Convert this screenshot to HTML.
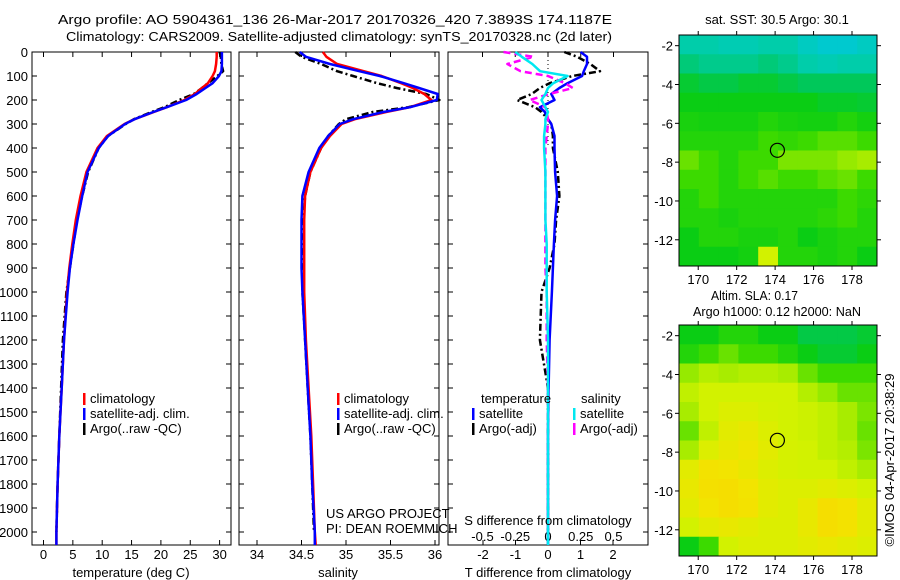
<!DOCTYPE html>
<html><head><meta charset="utf-8">
<style>
html,body{margin:0;padding:0;background:#fff;}
svg{display:block;font-family:"Liberation Sans",sans-serif;}
text{font-size:13px;fill:#000;}
</style></head>
<body>
<svg id="chart" width="900" height="580" viewBox="0 0 900 580" xmlns="http://www.w3.org/2000/svg">
<text x="58" y="24" textLength="554" lengthAdjust="spacingAndGlyphs">Argo profile: AO 5904361_136 26-Mar-2017 20170326_420 7.3893S 174.1187E</text>
<text x="66" y="41" textLength="546" lengthAdjust="spacingAndGlyphs">Climatology: CARS2009. Satellite-adjusted climatology: synTS_20170328.nc (2d later)</text>
<text x="777" y="24" text-anchor="middle">sat. SST: 30.5 Argo: 30.1</text>
<text x="711" y="300" textLength="87" lengthAdjust="spacingAndGlyphs">Altim. SLA: 0.17</text>
<text x="693" y="316" textLength="168" lengthAdjust="spacingAndGlyphs">Argo h1000: 0.12 h2000: NaN</text>
<text x="0" y="0" transform="translate(894,460) rotate(-90)" text-anchor="middle">©IMOS 04-Apr-2017 20:38:29</text>
<text x="326" y="518">US ARGO PROJECT</text>
<text x="326" y="533">PI: DEAN ROEMMICH</text>
</svg>
<script>
// ---------- data ----------
const depths    = [0,20,50,80,100,130,150,175,200,230,250,280,300,350,400,500,600,700,800,900,1000,1200,1400,1600,1800,2000,2054];
const tempClim  = [29.5,29.5,29.4,29.2,28.8,28.0,27.0,25.8,24.0,21.0,18.8,15.5,13.8,10.8,9.2,7.3,6.3,5.5,4.9,4.4,4.0,3.5,3.1,2.7,2.4,2.2,2.2];
const tempSat   = [30.4,30.4,30.4,30.3,29.9,28.8,27.6,26.1,24.3,21.0,18.7,15.5,13.9,11.0,9.4,7.5,6.6,5.8,5.1,4.5,4.1,3.5,3.1,2.7,2.4,2.2,2.2];
const tempArgo  = [30.0,30.2,30.3,30.6,29.6,28.0,27.0,25.6,23.1,20.6,18.4,15.4,14.0,11.0,9.4,7.6,6.6,5.7,5.1,4.5,3.9,3.3,3.0,2.7,2.4,2.2,null];
const salClim   = [34.74,34.78,34.90,35.20,35.40,35.62,35.75,35.88,35.96,35.72,35.45,35.10,34.95,34.82,34.72,34.60,34.54,34.53,34.53,34.53,34.53,34.55,34.58,34.61,34.63,34.65,34.66];
const salSat    = [34.48,34.55,34.82,35.15,35.38,35.65,35.82,36.03,36.02,35.72,35.42,35.08,34.93,34.80,34.70,34.58,34.51,34.50,34.50,34.50,34.51,34.54,34.57,34.60,34.62,34.65,34.65];
const salArgo   = [34.43,34.50,34.72,34.90,35.08,35.35,35.57,35.90,36.05,35.70,35.30,35.00,34.92,34.80,34.72,34.60,34.54,34.52,34.51,34.51,34.51,34.54,34.57,34.60,34.62,34.64,null];
const dTsat     = [1.0,1.2,1.2,1.1,1.05,0.6,0.35,0.1,0.2,-0.25,-0.1,0.0,0.1,0.2,0.2,0.22,0.28,0.22,0.18,0.15,0.12,0.05,0.02,0.0,0.0,0.0,0.0];
const dTargo    = [0.5,0.9,1.3,1.6,0.75,0.05,-0.25,-0.5,-0.95,-0.4,-0.2,0.0,0.1,0.15,0.15,0.3,0.35,0.25,0.2,0.05,-0.2,-0.25,0.0,0.0,0.0,0.0,null];
const dSargo    = [-0.34,-0.11,-0.31,-0.21,0.0,0.13,0.19,0.01,-0.14,-0.02,-0.01,0.0,0.0,-0.01,-0.02,-0.02,-0.02,-0.02,-0.02,-0.02,-0.01,-0.01,0.0,0.0,0.0,0.0,null];
const dSsat     = [-0.25,-0.2,-0.12,-0.06,0.15,0.04,0.0,-0.02,-0.05,-0.02,0.0,-0.02,-0.02,-0.03,-0.03,-0.02,-0.02,-0.02,-0.01,-0.01,-0.01,0.0,0.0,0.0,0.0,0.0,0.0];
const depthTicks = [0,100,200,300,400,500,600,700,800,900,1000,1100,1200,1300,1400,1500,1600,1700,1800,1900,2000];
const tempTicks  = [0,5,10,15,20,25,30];
const salTicks   = [34,34.5,35,35.5,36];
const salTickLabels = ['34','34.5','35','35.5','36'];
const dTTicks    = [-2,-1,0,1,2];
const dSTicks    = [-0.5,-0.25,0,0.25,0.5];
const dSTickLabels = ['-0.5','-0.25','0','0.25','0.5'];
const lonTicks   = [170,172,174,176,178];
const latTicks   = [-2,-4,-6,-8,-10,-12];
const argoLon = 174.1187, argoLat = -7.3893;
const sstGrid = [
[0.30,0.30,0.28,0.28,0.30,0.30,0.25,0.22,0.22,0.25],
[0.35,0.33,0.33,0.33,0.35,0.33,0.30,0.28,0.30,0.30],
[0.42,0.40,0.40,0.42,0.42,0.40,0.38,0.38,0.38,0.38],
[0.45,0.45,0.45,0.45,0.45,0.45,0.45,0.43,0.43,0.42],
[0.48,0.47,0.47,0.47,0.50,0.48,0.47,0.47,0.50,0.47],
[0.50,0.50,0.50,0.50,0.55,0.53,0.55,0.58,0.58,0.55],
[0.60,0.55,0.50,0.55,0.55,0.62,0.62,0.62,0.65,0.68],
[0.55,0.55,0.50,0.55,0.58,0.55,0.55,0.58,0.60,0.55],
[0.50,0.55,0.50,0.50,0.50,0.50,0.50,0.50,0.55,0.52],
[0.50,0.50,0.48,0.50,0.50,0.50,0.50,0.52,0.55,0.50],
[0.45,0.50,0.50,0.48,0.48,0.50,0.45,0.48,0.50,0.50],
[0.45,0.45,0.45,0.47,0.75,0.50,0.50,0.48,0.50,0.45]];
const slaGrid = [
[0.45,0.45,0.50,0.50,0.45,0.45,0.40,0.40,0.40,0.42],
[0.50,0.55,0.60,0.55,0.55,0.50,0.45,0.42,0.42,0.45],
[0.65,0.70,0.68,0.70,0.70,0.68,0.60,0.55,0.55,0.55],
[0.72,0.75,0.75,0.75,0.75,0.75,0.70,0.65,0.60,0.60],
[0.68,0.75,0.78,0.78,0.76,0.75,0.74,0.72,0.68,0.62],
[0.60,0.72,0.80,0.82,0.78,0.75,0.74,0.72,0.68,0.60],
[0.68,0.78,0.82,0.84,0.80,0.76,0.75,0.72,0.70,0.62],
[0.80,0.86,0.85,0.82,0.78,0.76,0.75,0.75,0.72,0.68],
[0.82,0.87,0.88,0.85,0.80,0.78,0.78,0.80,0.78,0.75],
[0.80,0.85,0.88,0.86,0.80,0.78,0.82,0.88,0.86,0.80],
[0.75,0.80,0.82,0.80,0.78,0.78,0.82,0.88,0.86,0.80],
[0.45,0.55,0.75,0.78,0.78,0.78,0.80,0.82,0.80,0.78]];

// ---------- helpers ----------
const svg=document.getElementById('chart');
const NS='http://www.w3.org/2000/svg';
function mk(tag,attrs,parent){const e=document.createElementNS(NS,tag);for(const k in attrs)e.setAttribute(k,attrs[k]);(parent||svg).appendChild(e);return e;}
const Y0=52, YB=545;
const yD=d=>Y0+d*0.24;
const P1={x0:32,x1:231}, P2={x0:239,x1:439}, P3={x0:448,x1:648};
const xT=t=>43.5+t*5.87;
const xS=s=>257+(s-34)*89;
const xDT=t=>548+t*32.5;
const xDS=s=>548+s*131;

function frame(P,name){
  const r=mk('rect',{x:P.x0,y:Y0,width:P.x1-P.x0,height:YB-Y0,fill:'none',stroke:'#000','stroke-width':1});
  
  
  depthTicks.forEach(d=>{
    mk('line',{x1:P.x0,x2:P.x0+5,y1:yD(d),y2:yD(d),stroke:'#000'});
    mk('line',{x1:P.x1,x2:P.x1-5,y1:yD(d),y2:yD(d),stroke:'#000'});
  });
}
function xticks(P,vals,fx,labels,y,name){
  vals.forEach((v,i)=>{
    const x=fx(v);
    mk('line',{x1:x,x2:x,y1:YB,y2:YB-5,stroke:'#000'});
    mk('line',{x1:x,x2:x,y1:Y0,y2:Y0+5,stroke:'#000'});
    const t=mk('text',{x:x,y:y,'text-anchor':'middle'});t.textContent=labels?labels[i]:String(v);
    
    
  });
}
function line(vals,fx,color,dash,name){
  let d='';let pen=false;
  vals.forEach((v,i)=>{ if(v===null){pen=false;return;} d+=(pen?'L':'M')+fx(v).toFixed(1)+','+yD(depths[i]).toFixed(1);pen=true;});
  const p=mk('path',{d:d,fill:'none',stroke:color,'stroke-width':2.5,'stroke-linejoin':'round'});
  if(dash)p.setAttribute('stroke-dasharray',dash);
  
  
}
function legend(x,y,items,prefix){
  items.forEach((it,i)=>{
    mk('rect',{x:x,y:y+i*15-10,width:2.5,height:12,fill:it[1]});
    const t=mk('text',{x:x+7,y:y+i*15});t.textContent=it[0];
    
    
  });
}

depthTicks.forEach(d=>{const t=mk('text',{x:28,y:yD(d)+5,'text-anchor':'end'});t.textContent=String(d);

});

// panel 1
frame(P1,'temperature-panel');
xticks(P1,tempTicks,xT,null,559,'temperature-tick-label');
line(tempArgo,xT,'#000','7,3,2,3','temp-argo-line');
line(tempClim,xT,'#ff0000',null,'temp-clim-line');
line(tempSat,xT,'#0000ff',null,'temp-sat-line');
{const t=mk('text',{x:131,y:577,'text-anchor':'middle'});t.textContent='temperature (deg C)';

}
legend(83,403,[['climatology','#f00'],['satellite-adj. clim.','#00f'],['Argo(..raw -QC)','#000']],'temperature');

// panel 2
frame(P2,'salinity-panel');
xticks(P2,salTicks,xS,salTickLabels,559,'salinity-tick-label');
line(salArgo,xS,'#000','7,3,2,3','sal-argo-line');
line(salClim,xS,'#ff0000',null,'sal-clim-line');
line(salSat,xS,'#0000ff',null,'sal-sat-line');
{const t=mk('text',{x:338,y:577,'text-anchor':'middle'});t.textContent='salinity';

}
legend(337,403,[['climatology','#f00'],['satellite-adj. clim.','#00f'],['Argo(..raw -QC)','#000']],'salinity');

// panel 3
frame(P3,'difference-panel');
mk('line',{x1:548,x2:548,y1:Y0,y2:yD(400),stroke:'#000','stroke-dasharray':'1,3'});
dTTicks.forEach(v=>{const x=xDT(v);mk('line',{x1:x,x2:x,y1:YB,y2:YB-5,stroke:'#000'});
const t=mk('text',{x:x,y:559,'text-anchor':'middle'});t.textContent=String(v);

});
dSTicks.forEach((v,i)=>{const x=xDS(v);mk('line',{x1:x,x2:x,y1:Y0,y2:Y0+5,stroke:'#000'});
const t=mk('text',{x:x,y:541,'text-anchor':'middle'});t.textContent=dSTickLabels[i];

});
line(dTargo,xDT,'#000','7,3,2,3','t-diff-argo-line');
line(dTsat,xDT,'#0000ff',null,'t-diff-sat-line');
line(dSargo,xDS,'#ff00ff','7,4','s-diff-argo-line');
line(dSsat,xDS,'#00e8f0',null,'s-diff-sat-line');
{const t=mk('text',{x:548,y:577,'text-anchor':'middle'});t.textContent='T difference from climatology';

}
{const t=mk('text',{x:548,y:525,'text-anchor':'middle'});t.textContent='S difference from climatology';

}
{const t=mk('text',{x:481,y:403});t.textContent='temperature';

}
{const t=mk('text',{x:581,y:403});t.textContent='salinity';

}
legend(472,418,[['satellite','#00f'],['Argo(-adj)','#000']],'t-diff');
legend(573,418,[['satellite','#00e8f0'],['Argo(-adj)','#f0f']],'s-diff');

// ---------- maps ----------
const stops=[[0,[0,64,255]],[0.2,[0,200,216]],[0.3,[0,205,170]],[0.38,[0,200,90]],[0.45,[10,205,20]],[0.55,[60,218,0]],[0.65,[150,234,0]],[0.75,[210,242,0]],[0.85,[242,228,0]],[1,[255,196,0]]];
function cmap(v){for(let i=1;i<stops.length;i++){if(v<=stops[i][0]){const a=stops[i-1],b=stops[i];const f=(v-a[0])/(b[0]-a[0]);const c=a[1].map((x,k)=>Math.round(x+(b[1][k]-x)*f));return 'rgb('+c.join(',')+')';}}return 'rgb(255,196,0)';}
const LON0=169, LON1=179.3, LAT0=-1.45, LAT1=-13.35;
function map(X0,X1,Y0m,Y1m,grid,name){
  const fx=l=>X0+(l-LON0)/(LON1-LON0)*(X1-X0);
  const fy=l=>Y0m+(l-LAT0)/(LAT1-LAT0)*(Y1m-Y0m);
  const g=mk('g',{});
  
  
  const nr=grid.length,nc=grid[0].length;
  grid.forEach((row,r)=>row.forEach((v,c)=>{
    const cell=mk('rect',{x:X0+c*(X1-X0)/nc,y:Y0m+r*(Y1m-Y0m)/nr,width:(X1-X0)/nc+0.5,height:(Y1m-Y0m)/nr+0.5,fill:cmap(v)},g);
    
    
  }));
  mk('rect',{x:X0,y:Y0m,width:X1-X0,height:Y1m-Y0m,fill:'none',stroke:'#000'});
  lonTicks.forEach(l=>{const x=fx(l);mk('line',{x1:x,x2:x,y1:Y1m,y2:Y1m+4,stroke:'#000'});mk('line',{x1:x,x2:x,y1:Y0m,y2:Y0m-4,stroke:'#000'});
    const t=mk('text',{x:x,y:Y1m+18,'text-anchor':'middle'});t.textContent=String(l);
    
    });
  latTicks.forEach(l=>{const y=fy(l);mk('line',{x1:X0,x2:X0-4,y1:y,y2:y,stroke:'#000'});mk('line',{x1:X1,x2:X1+4,y1:y,y2:y,stroke:'#000'});
    const t=mk('text',{x:X0-6,y:y+5,'text-anchor':'end'});t.textContent=String(l);
    
    });
  const c=mk('circle',{cx:fx(argoLon),cy:fy(argoLat),r:7,fill:'none',stroke:'#000','stroke-width':1.2});
  
  
}
map(679,877,35,266,sstGrid,'sst-map');
map(679,877,325,556,slaGrid,'sla-map');
</script>
</body></html>
